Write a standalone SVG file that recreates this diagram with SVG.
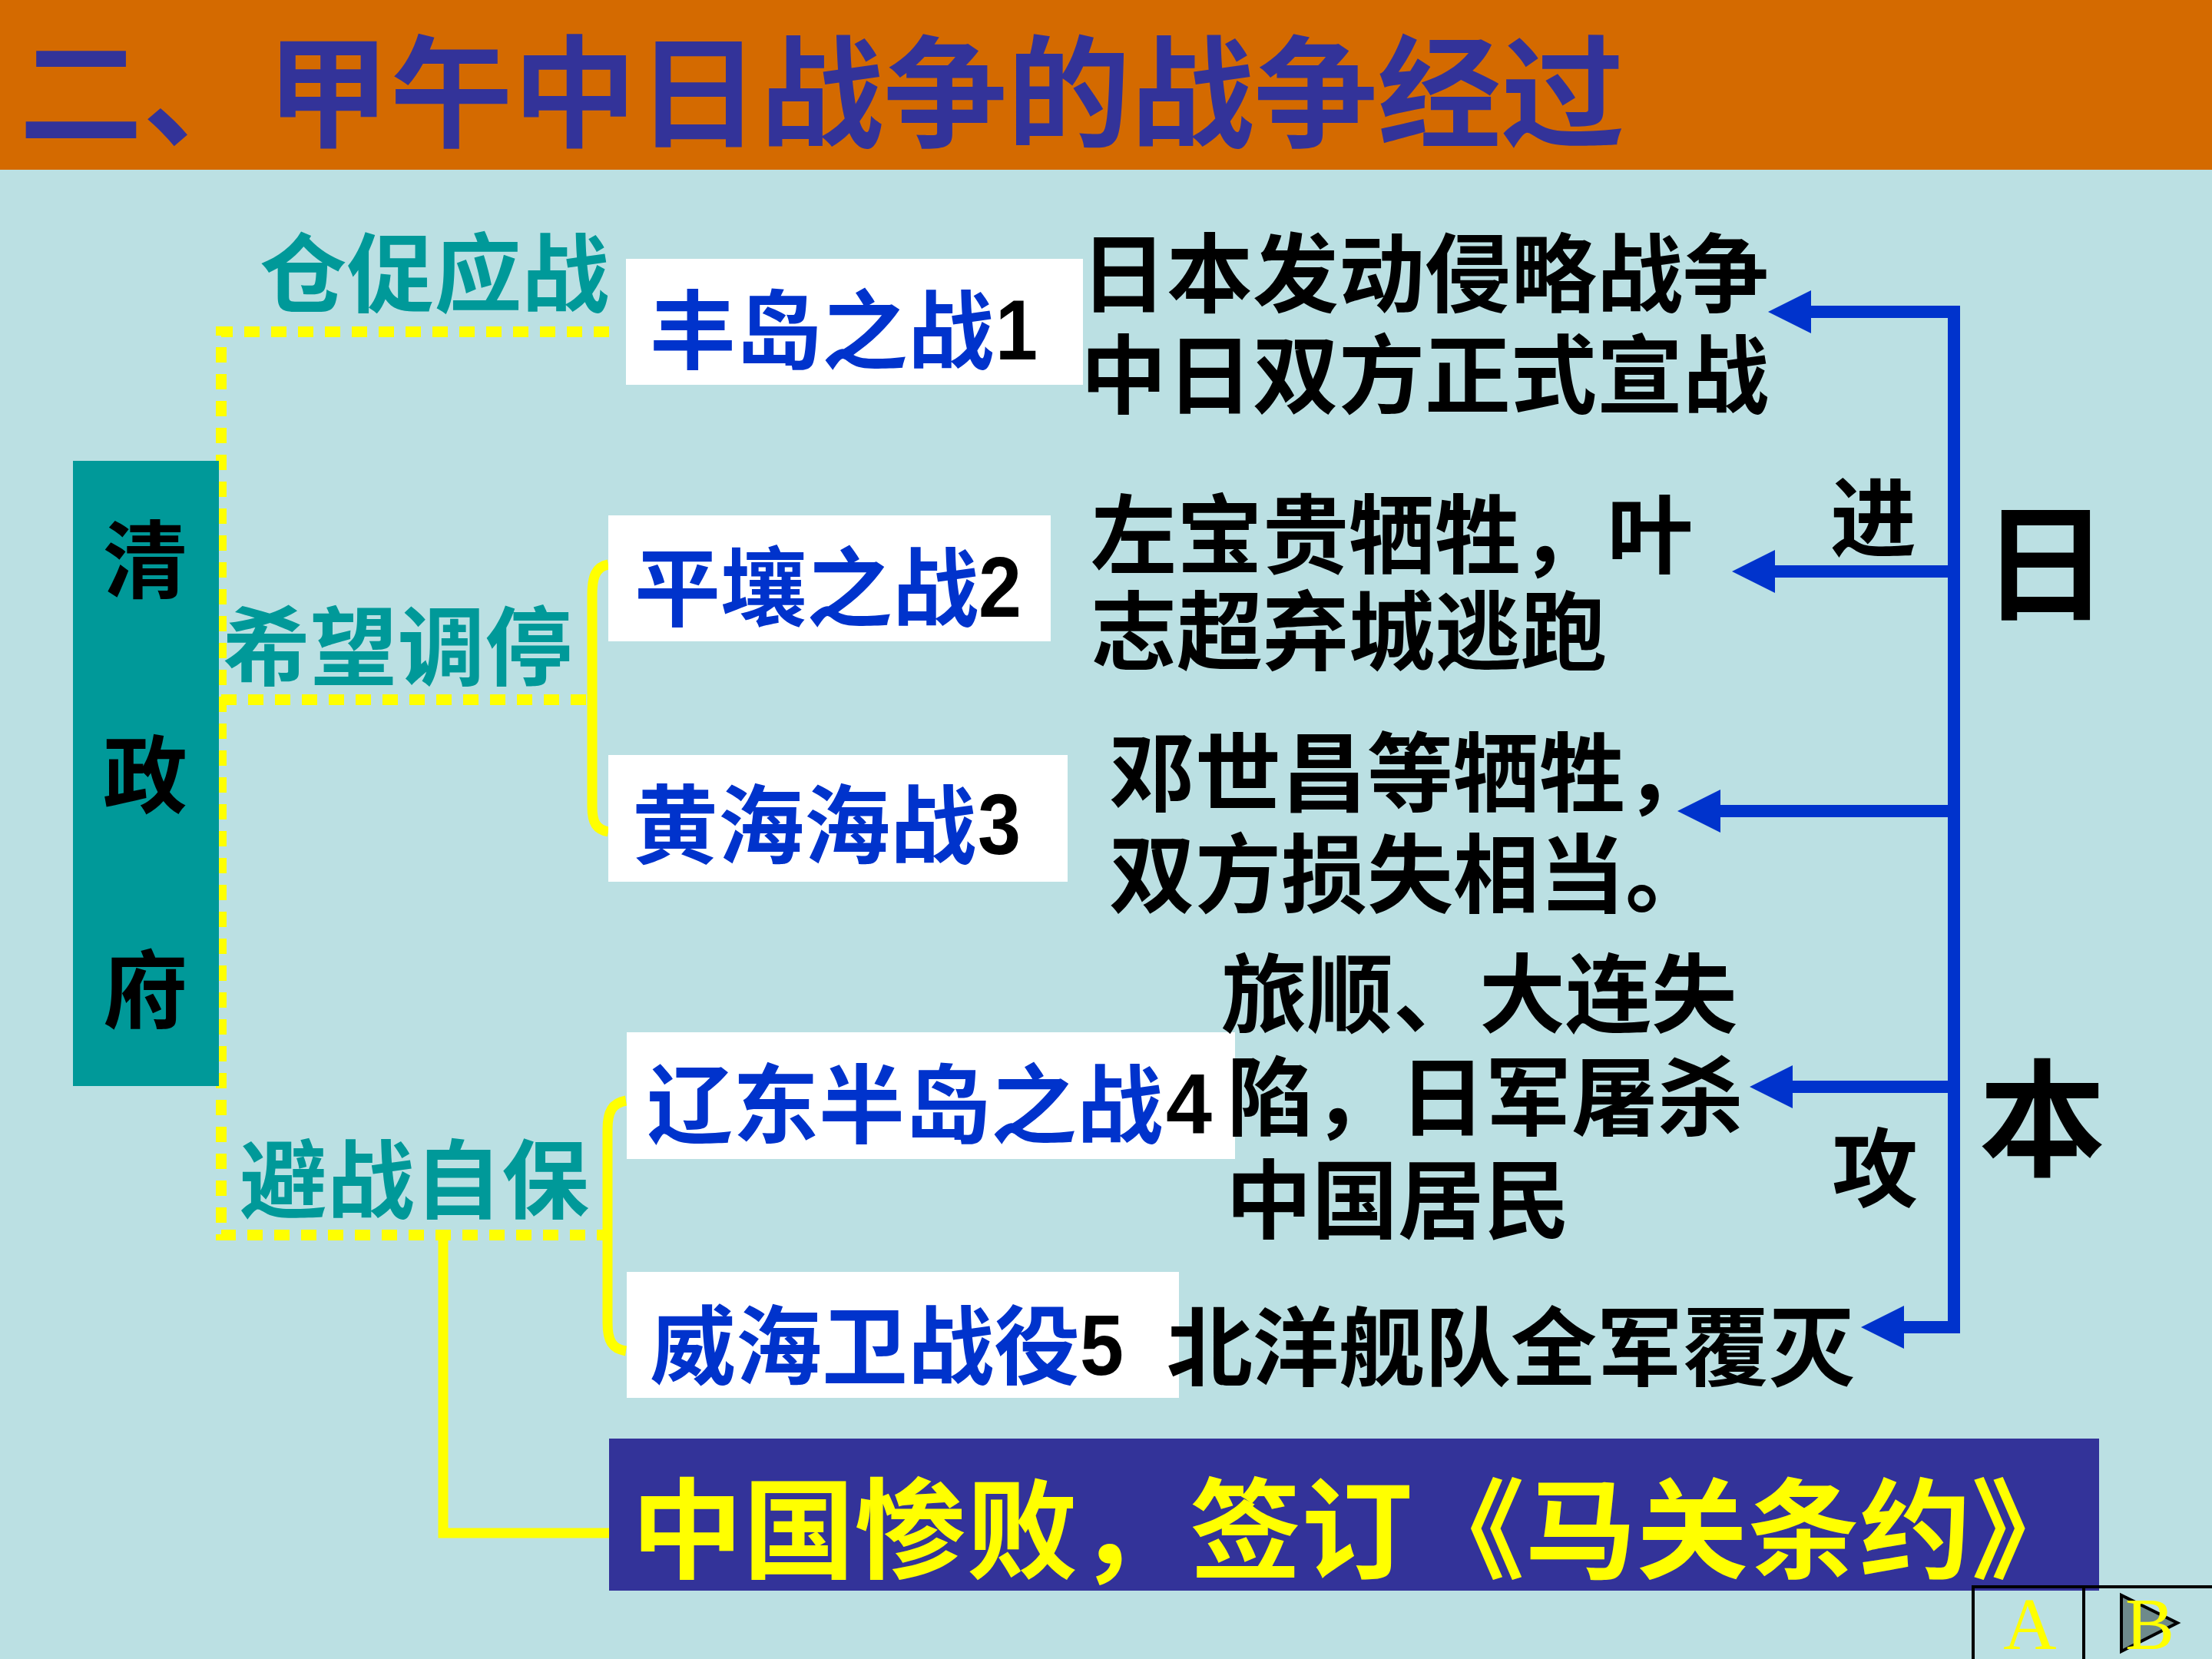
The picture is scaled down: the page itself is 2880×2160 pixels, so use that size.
<svg xmlns="http://www.w3.org/2000/svg" width="2880" height="2160" viewBox="0 0 2880 2160">
<defs>
<style>
.cjk{font-family:"Noto Sans CJK SC","Liberation Sans",sans-serif;font-weight:700}
.num{font-family:"Liberation Sans",Arial,sans-serif;font-weight:700;fill:#000;font-size:112px}
.lab{fill:#009999;font-size:112px}
.blue{fill:#0033CC;font-size:112px}
.blk{fill:#000;font-size:112px}
.wbox{fill:#FFFFFF}
.dot{fill:none;stroke:#FFFF00;stroke-width:14;stroke-dasharray:20 15}
.sol{fill:none;stroke:#FFFF00;stroke-width:13}
.bl{fill:none;stroke:#0033CC;stroke-width:16}
</style>
<marker id="ah" markerUnits="userSpaceOnUse" markerWidth="56" markerHeight="56" viewBox="0 0 54 54" refX="0" refY="27" orient="auto">
<path d="M0,0 L54,27 L0,54 Z" fill="#0033CC"/>
</marker>
</defs>
<rect x="0" y="0" width="2880" height="2160" fill="#BBE0E3"/>
<g id="title">
<rect x="0" y="0" width="2880" height="221" fill="#D46A00"/>
<text class="cjk" x="25" y="179" font-size="158" fill="#333399" textLength="2090" lengthAdjust="spacingAndGlyphs">二、甲午中日战争的战争经过</text>
</g>
<g id="connectors">
<path class="dot" d="M793 432 H288 V1608 H787"/>
<path class="dot" d="M288 911 H771"/>
<path class="sol" d="M792 735 C776 738 771 750 771 775 L771 1050 C771 1072 777 1080 792 1083"/>
<path class="sol" d="M815 1433 C797 1436 791 1448 791 1470 L791 1722 C791 1746 797 1756 815 1759"/>
<path class="sol" d="M577 1608 V1996 H795"/>
<path class="bl" d="M2544 398 V1736"/>
<path class="bl" d="M2552 406 H2358" marker-end="url(#ah)"/>
<path class="bl" d="M2544 744 H2311" marker-end="url(#ah)"/>
<path class="bl" d="M2544 1056 H2240" marker-end="url(#ah)"/>
<path class="bl" d="M2544 1415 H2334" marker-end="url(#ah)"/>
<path class="bl" d="M2552 1728 H2479" marker-end="url(#ah)"/>
</g>
<g id="qing">
<rect x="95" y="600" width="190" height="814" fill="#009999"/>
<text class="cjk" font-size="110" fill="#000" text-anchor="middle"><tspan x="189" y="770">清</tspan><tspan x="189" y="1050">政</tspan><tspan x="189" y="1330">府</tspan></text>
</g>
<g id="labels">
<text class="cjk lab" x="338" y="398" textLength="455" lengthAdjust="spacingAndGlyphs">仓促应战</text>
<text class="cjk lab" x="290" y="884" textLength="455" lengthAdjust="spacingAndGlyphs">希望调停</text>
<text class="cjk lab" x="312" y="1578" textLength="455" lengthAdjust="spacingAndGlyphs">避战自保</text>
</g>
<g id="battle1">
<rect class="wbox" x="815" y="337" width="595" height="164"/>
<text class="cjk blue" x="846" y="472">丰岛之战</text>
<text class="num" x="1296" y="468" textLength="55" lengthAdjust="spacingAndGlyphs">1</text>
</g>
<g id="battle2">
<rect class="wbox" x="792" y="671" width="576" height="164"/>
<text class="cjk blue" x="826" y="807">平壤之战</text>
<text class="num" x="1274" y="803" textLength="56" lengthAdjust="spacingAndGlyphs">2</text>
</g>
<g id="battle3">
<rect class="wbox" x="792" y="983" width="598" height="165"/>
<text class="cjk blue" x="823" y="1116">黄海海战</text>
<text class="num" x="1273" y="1112" textLength="56" lengthAdjust="spacingAndGlyphs">3</text>
</g>
<g id="battle4">
<rect class="wbox" x="816" y="1344" width="792" height="165"/>
<text class="cjk blue" x="842" y="1480">辽东半岛之战</text>
<text class="num" x="1518" y="1476" textLength="60" lengthAdjust="spacingAndGlyphs">4</text>
</g>
<g id="battle5">
<rect class="wbox" x="816" y="1656" width="719" height="164"/>
<text class="cjk blue" x="846" y="1794">威海卫战役</text>
<text class="num" x="1406" y="1790" textLength="57" lengthAdjust="spacingAndGlyphs">5</text>
</g>
<g id="result1">
<text class="cjk blk"><tspan x="1407" y="398">日本发动侵略战争</tspan><tspan x="1407" y="530">中日双方正式宣战</tspan></text>
</g>
<g id="result2">
<text class="cjk blk"><tspan x="1420" y="738">左宝贵牺牲，叶</tspan><tspan x="1420" y="864">志超弃城逃跑</tspan></text>
</g>
<g id="result3">
<text class="cjk blk"><tspan x="1444" y="1048">邓世昌等牺牲，</tspan><tspan x="1444" y="1180">双方损失相当。</tspan></text>
</g>
<g id="result4">
<text class="cjk blk"><tspan x="1590" y="1336">旅顺、大连失</tspan><tspan x="1598" y="1470">陷，日军屠杀</tspan><tspan x="1596" y="1604">中国居民</tspan></text>
</g>
<g id="result5">
<text class="cjk blk" x="1519" y="1796">北洋舰队全军覆灭</text>
</g>
<g id="japan">
<text class="cjk blk" x="2383" y="716">进</text>
<text class="cjk blk" x="2385" y="1563">攻</text>
<text class="cjk" font-size="165" fill="#000" text-anchor="middle" x="2663" y="794">日</text>
<text class="cjk" font-size="165" fill="#000" text-anchor="middle" x="2659" y="1518">本</text>
</g>
<g id="conclusion">
<rect x="793" y="1873" width="1940" height="198" fill="#333399"/>
<text class="cjk" x="822" y="2044" font-size="142" fill="#FFFF00" textLength="1890" lengthAdjust="spacingAndGlyphs">中国惨败，签订《马关条约》</text>
</g>
<g id="nav">
<rect x="2569" y="2066" width="144" height="120" fill="none" stroke="#000" stroke-width="4"/>
<rect x="2713" y="2066" width="200" height="120" fill="none" stroke="#000" stroke-width="4"/>
<polygon points="2762,2077 2762,2150 2835,2113" fill="#6E8A8B" stroke="#000" stroke-width="4"/>
<text x="2643" y="2147" font-family="Liberation Serif, serif" font-size="96" fill="#FFFF00" text-anchor="middle">A</text>
<text x="2799" y="2147" font-family="Liberation Serif, serif" font-size="96" fill="#FFFF00" text-anchor="middle">B</text>
</g>
</svg>
